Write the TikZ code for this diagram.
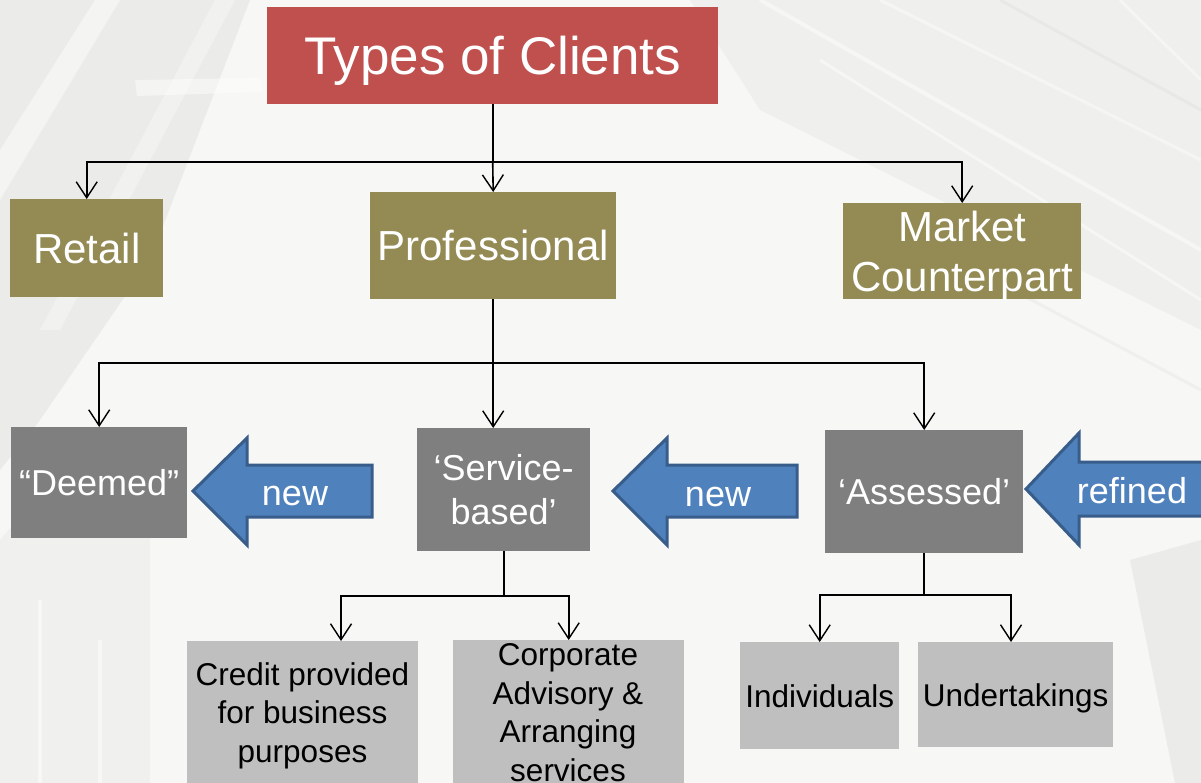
\documentclass[tikz,border=0pt]{standalone}
\usepackage{fontspec}
\setmainfont{Liberation Sans}
\usetikzlibrary{arrows.meta}

\definecolor{titlered}{HTML}{C0504D}
\definecolor{olivebox}{HTML}{948A54}
\definecolor{darkbox}{HTML}{7F7F7F}
\definecolor{lightbox}{HTML}{BFBFBF}
\definecolor{arrowfill}{HTML}{4F81BD}
\definecolor{arrowedge}{HTML}{385D8A}
\definecolor{paper}{HTML}{F7F7F5}
\definecolor{streak}{HTML}{E4E4E2}

\newcommand\setsize[2]{\fontsize{#1}{#2}\selectfont}

\begin{document}
\begin{tikzpicture}[x=1pt,y=-1pt,
  box/.style={anchor=north west, inner sep=0pt, align=center, text=white, text depth=0pt},
  toplevel/.style={box, fill=olivebox, font=\setsize{42}{50}},
  midlevel/.style={box, fill=darkbox, font=\setsize{36}{44}},
  lowlevel/.style={box, fill=lightbox, text=black, font=\setsize{31.5}{38.5}},
  lowtext/.style={anchor=base, inner sep=0pt, align=center, text=black, font=\setsize{31.5}{38.5}},
  conn/.style={draw=black, line width=1.6pt, -{Straight Barb[length=16pt,width=21pt,line width=1.4pt]}},
  link/.style={draw=black, line width=1.6pt},
  bigarrow/.style={fill=arrowfill, draw=arrowedge, line width=3pt, line join=miter},
  arrowtext/.style={anchor=base, inner sep=0pt, text=white, font=\setsize{36}{44}}]

  % page and faint photographic backdrop
  \fill[paper] (0,0) rectangle (1201,783);
  \useasboundingbox (0,0) rectangle (1201,783);
  \begin{scope}
    \clip (0,0) rectangle (1201,783);
    \fill[streak, opacity=0.6] (0,0) -- (250,0) -- (150,260) -- (40,420) -- (0,470) -- cycle;
    \fill[white, opacity=0.45] (0,150) -- (95,0) -- (120,0) -- (0,200) -- cycle;
    \fill[white, opacity=0.35] (40,330) -- (215,0) -- (235,0) -- (60,330) -- cycle;
    \fill[white, opacity=0.45] (135,80) -- (260,78) -- (262,92) -- (137,96) -- cycle;
    \fill[streak, opacity=0.4] (690,0) -- (1201,0) -- (1201,330) -- (1060,260) -- (760,110) -- cycle;
    \draw[white, line width=4pt, opacity=0.45] (760,0) -- (1201,250);
    \draw[white, line width=3pt, opacity=0.45] (820,60) -- (1201,300);
    \draw[white, line width=3pt, opacity=0.4] (880,0) -- (1201,160);
    \draw[white, line width=3pt, opacity=0.4] (1120,0) -- (1201,80);
    \draw[streak, line width=3pt, opacity=0.6] (1000,0) -- (1201,110);
    \draw[streak, line width=3pt, opacity=0.4] (900,230) -- (1201,390);
    \fill[streak, opacity=0.35] (0,540) -- (60,470) -- (150,430) -- (150,783) -- (0,783) -- cycle;
    \draw[white, line width=4pt, opacity=0.5] (40,600) -- (40,783);
    \draw[white, line width=4pt, opacity=0.5] (100,640) -- (100,783);
    \fill[streak, opacity=0.6] (1130,560) -- (1201,540) -- (1201,783) -- (1175,783) -- cycle;
  \end{scope}

  % boxes
  \node[box, fill=titlered, minimum width=451pt, minimum height=97pt,
        font=\setsize{53}{60}] (title) at (267,7) {Types of Clients};

  \node[toplevel, minimum width=153pt, minimum height=98pt] (retail) at (10,199) {Retail};
  \node[toplevel, minimum width=246pt, minimum height=107pt] (prof) at (370,192) {Professional};
  \node[toplevel, minimum width=238pt, minimum height=96pt] (market) at (843,203) {Market\\Counterpart};

  \node[midlevel, minimum width=176pt, minimum height=111pt] (deemed) at (11,427) {“Deemed”};
  \node[midlevel, minimum width=173pt, minimum height=123pt] (service) at (417,428) {‘Service-\\based’};
  \node[midlevel, minimum width=198pt, minimum height=123pt] (assessed) at (825,430) {‘Assessed’};

  \node[lowlevel, minimum width=231pt, minimum height=150pt] (credit) at (187,641) {};
  \node[lowtext] (credittext) at (302.5,762) {Credit provided\\for business\\purposes};
  \node[lowlevel, minimum width=231pt, minimum height=150pt] (corp) at (453,640) {};
  \node[lowtext] (corptext) at (568,781) {Corporate\\Advisory \&\\Arranging\\services};
  \node[lowlevel, minimum width=159pt, minimum height=107pt] (indiv) at (740,642) {Individuals};
  \node[lowlevel, minimum width=195pt, minimum height=105pt] (under) at (918,642) {Undertakings};

  % horizontal bus levels
  \coordinate (busA) at (0,162);
  \coordinate (busB) at (0,363);
  \coordinate (busC) at (0,596);
  \coordinate (busD) at (0,595);

  % tree connectors
  \draw[link] (title.south) -- (title.south |- busA);
  \draw[conn] (title.south |- busA) -| (retail.north);
  \draw[conn] (title.south |- busA) -- (prof.north);
  \draw[conn] (title.south |- busA) -| (market.north);

  \draw[link] (prof.south) -- (prof.south |- busB);
  \draw[conn] (prof.south |- busB) -| (deemed.north);
  \draw[conn] (prof.south |- busB) -- (prof.south |- service.north);
  \draw[conn] (prof.south |- busB) -| (assessed.north);

  \coordinate (creditin) at (341,641);
  \draw[link] (service.south) -- (service.south |- busC);
  \draw[conn] (service.south |- busC) -| (creditin);
  \draw[conn] (service.south |- busC) -| (corp.north);

  \coordinate (underin) at (1011,642);
  \draw[link] (assessed.south) -- (assessed.south |- busD);
  \draw[conn] (assessed.south |- busD) -| (indiv.north);
  \draw[conn] (assessed.south |- busD) -| (underin);

  % block arrows pointing at the client categories
  \draw[bigarrow] (193,491) -- (247,438) -- (247,465) -- (372,465) -- (372,517)
                  -- (247,517) -- (247,545) -- cycle;
  \node[arrowtext] (newA) at (295,505) {new};

  \draw[bigarrow] (613,491) -- (667,438) -- (667,465) -- (797,465) -- (797,517)
                  -- (667,517) -- (667,545) -- cycle;
  \node[arrowtext] (newB) at (718,506) {new};

  \draw[bigarrow] (1026,489) -- (1079,433) -- (1079,462) -- (1220,462) -- (1220,516)
                  -- (1079,516) -- (1079,545) -- cycle;
  \node[arrowtext] (refined) at (1132,503) {refined};
\end{tikzpicture}
\end{document}
